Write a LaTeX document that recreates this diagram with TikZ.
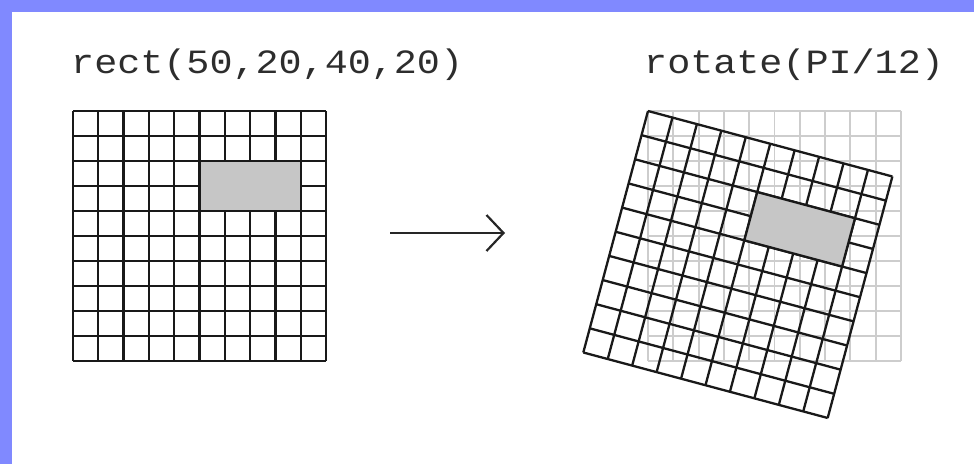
\documentclass[tikz,border=0pt]{standalone}
\usepackage{fontspec}
\usepackage{tikz}
\usetikzlibrary{arrows.meta}
\newfontfamily\codefont[FakeStretch=1.13]{Liberation Mono}
\definecolor{framebar}{RGB}{128,137,255}
\definecolor{inkgray}{RGB}{45,45,45}
\definecolor{ghostgray}{RGB}{205,205,205}
\definecolor{boxgray}{RGB}{198,198,198}

\begin{document}
\begin{tikzpicture}[x=1pt,y=-1pt,
    codelabel/.style={anchor=base west,inner sep=0pt,text=inkgray,
      font=\codefont\fontsize{34}{38}\selectfont},
    gridline/.style={line width=2.3pt,black!90},
    ghostline/.style={line width=1.9pt,ghostgray},
    cellbox/.style={fill=boxgray,draw=black!90,line width=2.3pt},
    mapsto/.style={line width=2.2pt,black!85,
      -{Straight Barb[length=17pt,width=36pt]}}]
  \useasboundingbox (0,0) rectangle (974,464);
  \fill[framebar] (0,0) rectangle (974,12);
  \fill[framebar] (0,0) rectangle (12,464);
  \node[codelabel] (rectlabel) at (71,73) {rect(50,20,40,20)};
  \node[codelabel] (rotlabel) at (644,73) {rotate(PI/12)};
  % original grid, 10 x 10 cells
  \begin{scope}[shift={(73,111)},x=25.3pt,y=-25pt]
    \foreach \i in {0,...,10} {
      \draw[gridline] (\i,0) -- (\i,10);
      \draw[gridline] (0,\i) -- (10,\i);
    }
    \filldraw[cellbox] (5,2) rectangle (9,4);
  \end{scope}
  % grid before the rotation, faint
  \begin{scope}[shift={(648,111)},x=25.3pt,y=-25pt]
    \foreach \i in {0,...,10} {
      \draw[ghostline] (\i,0) -- (\i,10);
      \draw[ghostline] (0,\i) -- (10,\i);
    }
  \end{scope}
  % grid after rotate(PI/12)
  \begin{scope}[shift={(648,111)},rotate=-15,x=25.3pt,y=-25pt]
    \foreach \i in {0,...,10} {
      \draw[gridline] (\i,0) -- (\i,10);
      \draw[gridline] (0,\i) -- (10,\i);
    }
    \filldraw[cellbox] (5,2) rectangle (9,4);
  \end{scope}
  \coordinate (arrowtail) at (390,233);
  \coordinate (arrowtip) at (505,233);
  \draw[mapsto] (arrowtail) -- (arrowtip);
\end{tikzpicture}
\end{document}
